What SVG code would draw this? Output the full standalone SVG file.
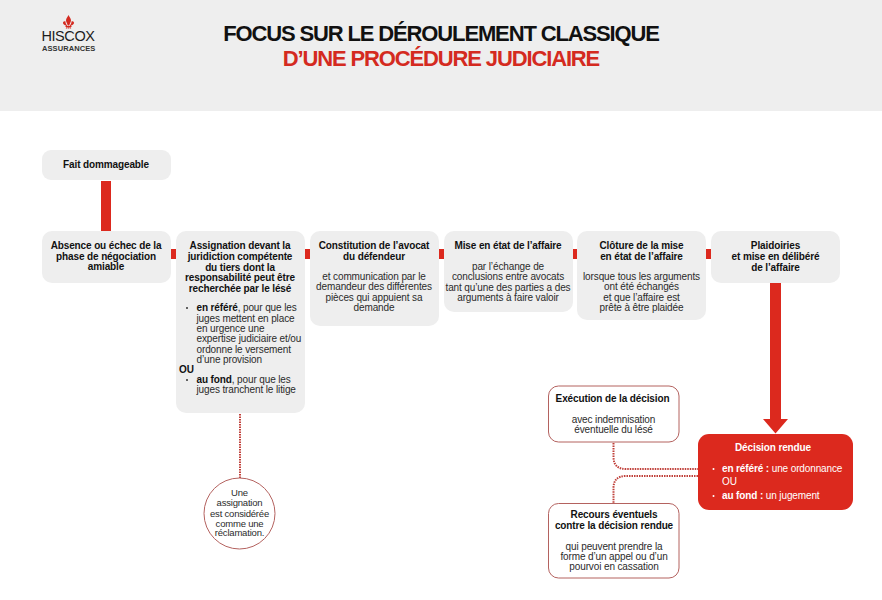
<svg xmlns="http://www.w3.org/2000/svg" width="882" height="600" viewBox="0 0 882 600">
<style>
text{font-family:"Liberation Sans",Arial,sans-serif;font-size:10px;fill:#2b2b2b;text-anchor:middle;letter-spacing:-0.12px}
.b{font-weight:700;fill:#111}
.l{text-anchor:start}
.g{fill:#eeeeee}
.o{fill:#fff;stroke:#b4625f;stroke-width:1}
.r{fill:#dc291e}
.w{fill:#fff}
.wb{fill:#fff;font-weight:700}
.dot{fill:none;stroke:#c0403a;stroke-width:2;stroke-dasharray:1.5 1}
.t{font-size:22px;font-weight:700;letter-spacing:-1.14px}
.c{font-size:9.500px;letter-spacing:-0.2px}
</style>
<rect width="882" height="600" fill="#fff"/>
<g id="header">
<rect width="882" height="111" class="g"/>
<g id="logo-mark" fill="#d42a20">
<path d="M68.500 15C69.800 17.500 71 18.800 71 20.500C71 22 69.700 23 69.300 25.500H67.700C67.300 23 66 22 66 20.500C66 18.800 67.200 17.500 68.500 15Z"/>
<path d="M65.500 21.500C63.800 20.800 62.600 22 63.100 23.600C63.500 25 65.400 25.200 66.800 26.500H67.400C67 24.800 65.300 23.800 65.500 21.500Z"/>
<path d="M71.500 21.500C73.200 20.800 74.400 22 73.900 23.600C73.500 25 71.600 25.200 70.200 26.500H69.600C70 24.800 71.700 23.800 71.500 21.500Z"/>
<rect x="65.500" y="26" width="6" height="1"/>
<path d="M66.300 27.300H67.900L67.300 28.600H65.800ZM69.100 27.300H70.700L71.200 28.600H69.700ZM68 27.300H69V28.600H68Z"/>
</g>
<text x="68" y="41" style="font-size:14.500px;letter-spacing:-0.4px;fill:#1d1d1d">HISCOX</text>
<text x="68.700" y="51" style="font-size:7.500px;font-weight:700;letter-spacing:0.1px;fill:#333">ASSURANCES</text>
<text x="441" y="41" class="t" style="fill:#111">FOCUS SUR LE DÉROULEMENT CLASSIQUE</text>
<text x="441" y="66" class="t" style="fill:#d42a20">D’UNE PROCÉDURE JUDICIAIRE</text>
</g>
<g id="connectors">
<rect x="101" y="181" width="10" height="50" class="r"/>
<rect x="171" y="249" width="5" height="10" class="r"/>
<rect x="305" y="249" width="5" height="10" class="r"/>
<rect x="439" y="249" width="5" height="10" class="r"/>
<rect x="573" y="249" width="4" height="10" class="r"/>
<rect x="706" y="249" width="5" height="10" class="r"/>
<path class="r" d="M770 283H781V419H788L775.500 433.500L763 419H770Z"/>
<path class="dot" d="M240 414V478"/>
<path class="dot" d="M613.500 443V457Q613.500 469 626 469H698"/>
<path class="dot" d="M698 476H626Q613.500 476 613.500 488V503"/>
</g>
<g id="n1"><rect x="42" y="150" width="129" height="30" rx="9" class="g"/>
<text x="106" y="168" class="b">Fait dommageable</text></g>
<g id="n2"><rect x="42" y="231" width="129" height="52" rx="10" class="g"/>
<text x="106" y="249" class="b">Absence ou échec de la</text>
<text x="106" y="259.500" class="b">phase de négociation</text>
<text x="106" y="270" class="b">amiable</text></g>
<g id="n3"><rect x="176" y="231" width="129" height="182" rx="10" class="g"/>
<text x="240" y="249" class="b">Assignation devant la</text>
<text x="240" y="259.500" class="b">juridiction compétente</text>
<text x="240" y="270.500" class="b">du tiers dont la</text>
<text x="240" y="281" class="b">responsabilité peut être</text>
<text x="240" y="291.500" class="b">recherchée par le lésé</text>
<circle cx="187" cy="308" r="1" fill="#333"/>
<text x="196.500" y="311" class="l"><tspan class="b">en référé</tspan>, pour que les</text>
<text x="196.500" y="321.500" class="l">juges mettent en place</text>
<text x="196.500" y="332" class="l">en urgence une</text>
<text x="196.500" y="342" class="l">expertise judiciaire et/ou</text>
<text x="196.500" y="352.500" class="l">ordonne le versement</text>
<text x="196.500" y="362.500" class="l">d’une provision</text>
<text x="179" y="373" class="l b">OU</text>
<circle cx="187" cy="380" r="1" fill="#333"/>
<text x="196.500" y="383" class="l"><tspan class="b">au fond</tspan>, pour que les</text>
<text x="196.500" y="393" class="l">juges tranchent le litige</text></g>
<g id="n4"><rect x="310" y="231" width="129" height="95" rx="10" class="g"/>
<text x="374" y="249" class="b">Constitution de l’avocat</text>
<text x="374" y="259.500" class="b">du défendeur</text>
<text x="374" y="280">et communication par le</text>
<text x="374" y="290">demandeur des différentes</text>
<text x="374" y="301">pièces qui appuient sa</text>
<text x="374" y="311">demande</text></g>
<g id="n5"><rect x="444" y="231" width="129" height="81" rx="10" class="g"/>
<text x="508" y="249" class="b">Mise en état de l’affaire</text>
<text x="508" y="270">par l’échange de</text>
<text x="508" y="280">conclusions entre avocats</text>
<text x="508" y="290.500">tant qu’une des parties a des</text>
<text x="508" y="301">arguments à faire valoir</text></g>
<g id="n6"><rect x="577" y="231" width="129" height="89" rx="10" class="g"/>
<text x="641.500" y="249" class="b">Clôture de la mise</text>
<text x="641.500" y="259.500" class="b">en état de l’affaire</text>
<text x="641.500" y="280">lorsque tous les arguments</text>
<text x="641.500" y="290">ont été échangés</text>
<text x="641.500" y="300.500">et que l’affaire est</text>
<text x="641.500" y="310.500">prête à être plaidée</text></g>
<g id="n7"><rect x="711" y="231" width="129" height="52" rx="10" class="g"/>
<text x="775.500" y="249" class="b">Plaidoiries</text>
<text x="775.500" y="259.500" class="b">et mise en délibéré</text>
<text x="775.500" y="270.500" class="b">de l’affaire</text></g>
<g id="n8"><rect x="698" y="434" width="155" height="76" rx="11" class="r"/>
<text x="773" y="451" class="wb">Décision rendue</text>
<circle cx="713.500" cy="469" r="1" fill="#fff"/>
<text x="722" y="471.500" class="l w"><tspan class="wb">en référé :</tspan> une ordonnance</text>
<text x="722" y="485" class="l w">OU</text>
<circle cx="713.500" cy="496" r="1" fill="#fff"/>
<text x="722" y="498.500" class="l w"><tspan class="wb">au fond :</tspan> un jugement</text></g>
<g id="n9"><rect x="548.500" y="386" width="130.500" height="56" rx="10" class="o"/>
<text x="612.500" y="402" class="b">Exécution de la décision</text>
<text x="613.500" y="423">avec indemnisation</text>
<text x="613.500" y="433">éventuelle du lésé</text></g>
<g id="n10"><rect x="548.500" y="503.500" width="130.500" height="74.500" rx="10" class="o"/>
<text x="614" y="518" class="b">Recours éventuels</text>
<text x="614" y="529" class="b">contre la décision rendue</text>
<text x="614" y="549.500">qui peuvent prendre la</text>
<text x="614" y="560">forme d’un appel ou d’un</text>
<text x="614" y="570">pourvoi en cassation</text></g>
<g id="n11"><circle cx="239.500" cy="513.500" r="35.500" class="o"/>
<text x="239.500" y="496" class="c">Une</text>
<text x="239.500" y="506" class="c">assignation</text>
<text x="239.500" y="516.500" class="c">est considérée</text>
<text x="239.500" y="526.500" class="c">comme une</text>
<text x="239.500" y="536" class="c">réclamation.</text></g>
</svg>
